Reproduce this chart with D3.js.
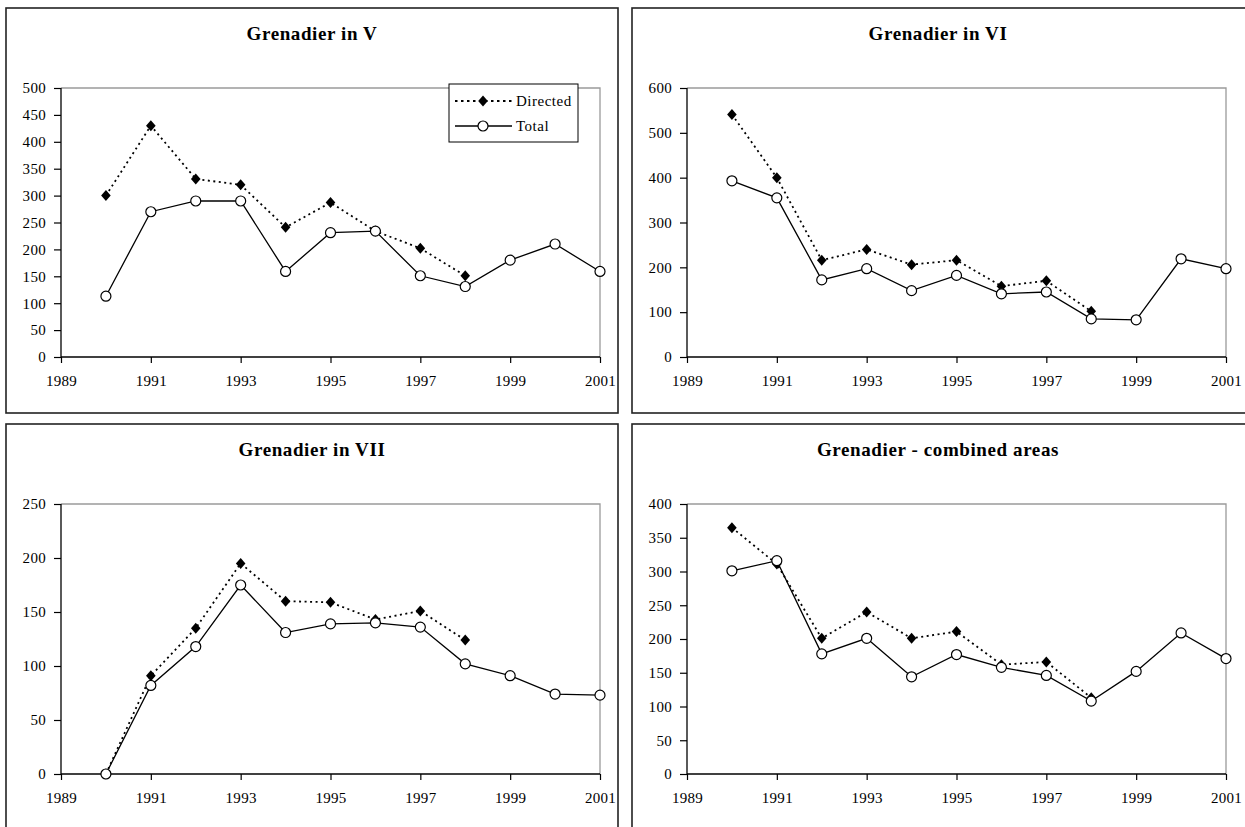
<!DOCTYPE html>
<html>
<head>
<meta charset="utf-8">
<script src="https://cdn.jsdelivr.net/npm/d3@7/dist/d3.min.js"></script>
<style>
  html, body { margin: 0; padding: 0; background: #fff; }
  svg { display: block; }
  text { font-family: "Liberation Serif", "Times New Roman", serif; fill: #000; }
</style>
</head>
<body>
<svg id="chart" width="1245" height="827"></svg>
<script>
// ---- Data ----
const years = [1990, 1991, 1992, 1993, 1994, 1995, 1996, 1997, 1998, 1999, 2000, 2001];
const directedYears = [1990, 1991, 1992, 1993, 1994, 1995, 1996, 1997, 1998];
const xTicks = [1989, 1991, 1993, 1995, 1997, 1999, 2001];

const titles = ["Grenadier in V", "Grenadier in VI", "Grenadier in VII", "Grenadier - combined areas"];

const directedV    = [300, 430, 331, 320, 241, 287, 234, 202, 151];
const totalV       = [113, 270, 290, 290, 159, 231, 234, 151, 131, 180, 210, 159];
const directedVI   = [541, 400, 216, 240, 206, 216, 158, 170, 102];
const totalVI      = [393, 355, 172, 197, 148, 182, 141, 145, 85, 83, 219, 197];
const directedVII  = [0, 91, 135, 195, 160, 159, 143, 151, 124];
const totalVII     = [0, 82, 118, 175, 131, 139, 140, 136, 102, 91, 74, 73];
const directedAll  = [365, 311, 201, 240, 201, 211, 162, 166, 113];
const totalAll     = [301, 316, 178, 201, 144, 177, 158, 146, 108, 152, 209, 171];

const yMaxes = [500, 600, 250, 400];
const yStep = [50, 100, 50, 50];
const legendLabels = ["Directed", "Total"];

// ---- Layout ----
const svg = d3.select("#chart");
const panels = [
  {box: [6, 8, 612, 405], plot: [61, 88, 600, 357], dir: directedV, tot: totalV, legend: true},
  {box: [632, 8, 660, 405], plot: [687, 88, 1226, 357], dir: directedVI, tot: totalVI},
  {box: [6, 424, 612, 420], plot: [61, 504, 600, 774], dir: directedVII, tot: totalVII},
  {box: [632, 424, 660, 420], plot: [687, 504, 1226, 774], dir: directedAll, tot: totalAll}
];

const diamondPath = "M0,-5.5L4.8,0L0,5.5L-4.8,0Z";

function drawDiamond(g, x, y) {
  g.append("path").attr("d", diamondPath).attr("transform", `translate(${x},${y})`).attr("fill", "#000");
}
function drawCircle(g, x, y) {
  g.append("circle").attr("cx", x).attr("cy", y).attr("r", 5)
    .attr("fill", "#fff").attr("stroke", "#000").attr("stroke-width", 1.2);
}

panels.forEach((p, i) => {
  const g = svg.append("g");
  // panel border
  g.append("rect").attr("x", p.box[0]).attr("y", p.box[1]).attr("width", p.box[2]).attr("height", p.box[3])
    .attr("fill", "#fff").attr("stroke", "#222").attr("stroke-width", 1.6);

  const [x0, y0, x1, y1] = p.plot;
  const x = d3.scaleLinear().domain([1989, 2001]).range([x0, x1]);
  const y = d3.scaleLinear().domain([0, yMaxes[i]]).range([y1, y0]);

  // title
  const cx = i % 2 ? 938 : 312;
  g.append("text").attr("x", cx).attr("y", p.box[1] + 32)
    .attr("text-anchor", "middle").attr("font-size", 19).attr("font-weight", "bold")
    .attr("letter-spacing", 0.6).text(titles[i]);

  // plot area gray frame (top & right)
  g.append("path").attr("d", `M${x0},${y0}H${x1}V${y1}`).attr("fill", "none")
    .attr("stroke", "#9a9a9a").attr("stroke-width", 1.3);

  // axes
  const yAxis = d3.axisLeft(y).tickValues(d3.range(0, yMaxes[i] + 1, yStep[i]))
    .tickSize(7).tickPadding(8).tickFormat(d3.format("d"));
  const yg = g.append("g").attr("transform", `translate(${x0},0)`).call(yAxis);
  const xAxis = d3.axisBottom(x).tickValues(xTicks).tickSize(6).tickPadding(12).tickFormat(d3.format("d"));
  const xg = g.append("g").attr("transform", `translate(0,${y1})`).call(xAxis);
  [yg, xg].forEach(a => {
    a.select(".domain").attr("stroke", "#000").attr("stroke-width", 1.3);
    a.selectAll(".tick line").attr("stroke", "#000").attr("stroke-width", 1.2);
    a.selectAll("text").attr("font-family", "Liberation Serif, Times New Roman, serif")
      .attr("font-size", 15).attr("letter-spacing", 0.3).attr("fill", "#000");
  });
  yg.select(".domain").attr("d", `M0,${y1}V${y0}`);
  xg.select(".domain").attr("d", `M${x0},0H${x1}`);

  // directed series
  const dirPts = directedYears.map((yr, k) => [x(yr), y(p.dir[k])]);
  g.append("path").attr("d", d3.line()(dirPts)).attr("fill", "none")
    .attr("stroke", "#000").attr("stroke-width", 1.8).attr("stroke-dasharray", "2,3.5");
  dirPts.forEach(pt => drawDiamond(g, pt[0], pt[1]));

  // total series
  const totPts = years.map((yr, k) => [x(yr), y(p.tot[k])]);
  g.append("path").attr("d", d3.line()(totPts)).attr("fill", "none")
    .attr("stroke", "#000").attr("stroke-width", 1.3);
  totPts.forEach(pt => drawCircle(g, pt[0], pt[1]));

  if (p.legend) {
    const lg = g.append("g");
    lg.append("rect").attr("x", 449).attr("y", 84).attr("width", 129).attr("height", 58)
      .attr("fill", "#fff").attr("stroke", "#000").attr("stroke-width", 1);
    const rows = [101, 126];
    lg.append("line").attr("x1", 455).attr("x2", 512).attr("y1", rows[0]).attr("y2", rows[0])
      .attr("stroke", "#000").attr("stroke-width", 2).attr("stroke-dasharray", "2.5,3.5");
    drawDiamond(lg, 483, rows[0]);
    lg.append("line").attr("x1", 455).attr("x2", 512).attr("y1", rows[1]).attr("y2", rows[1])
      .attr("stroke", "#000").attr("stroke-width", 1.3);
    drawCircle(lg, 483, rows[1]);
    legendLabels.forEach((t, k) => {
      lg.append("text").attr("x", 516).attr("y", rows[k] + 5).attr("font-size", 15)
        .attr("letter-spacing", 0.5).text(t);
    });
  }
});
</script>
</body>
</html>
